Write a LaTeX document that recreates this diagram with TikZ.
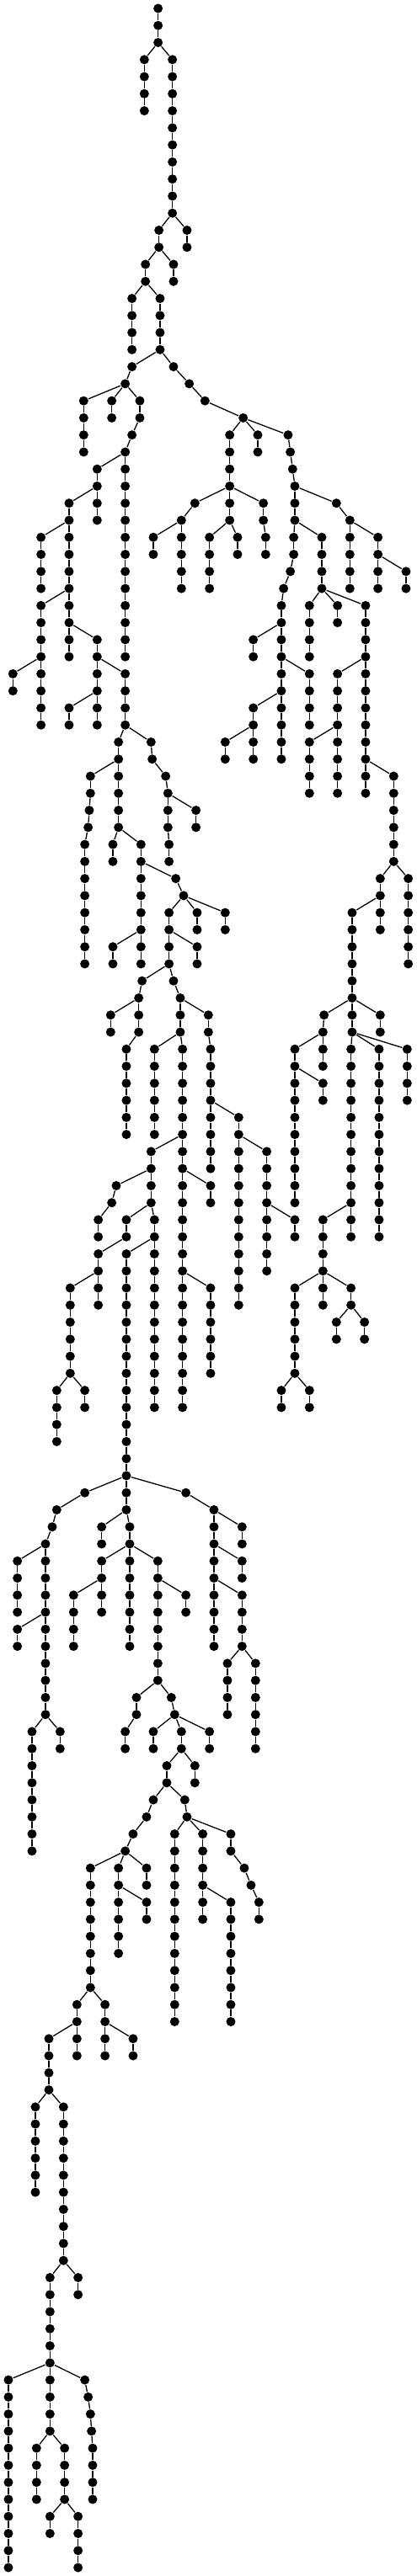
\documentclass[tikz,border=0pt]{standalone}
\begin{document}
\begin{tikzpicture}[x=0.33333pt, y=-20.267pt, line width=1.3pt, vert/.style={circle, fill=black, inner sep=0pt, minimum size=11pt}]
        \useasboundingbox (0,-0.4934) rectangle (1485,150.4934);
        \node[vert] (n563-0) at (563,0) {};
        \foreach \up/\col/\fst/\lst in {
            563-0/563/1/2, 563-2/514/3/6, 563-2/614/3/12, 614-12/666/13/14, 614-12/566/13/14,
            566-14/618/15/16, 566-14/518/15/16, 518-16/470/17/20, 518-16/570/17/20,
            570-20/470/21/21, 470-21/446/22/22, 446-22/298/23/26, 446-22/398/23/24, 446-22/498/23/24,
            498-24/470/25/25, 470-25/446/26/26, 446-26/446/27/38, 446-26/346/27/30,
            346-28/246/29/38, 246-30/146/31/34, 246-34/146/35/42, 146-38/46/39/40,
            246-36/346/37/42, 346-38/446/39/42, 346-40/246/41/42,
            446-42/422/43/48, 422-44/322/45/46, 322-46/318/47/47, 318-47/314/48/48, 314-48/302/49/56,
            422-48/402/49/50, 422-48/502/49/54, 502-50/626/51/51, 626-51/654/52/52,
            502-54/402/55/56, 502-54/502/55/56,
            446-42/538/43/43, 538-43/542/44/44, 542-44/590/45/45, 590-45/598/46/48, 598-46/698/47/48,
            598-48/602/49/50,
            654-52/602/53/56, 654-52/702/53/54, 654-52/802/53/54, 602-54/702/55/56,
            602-56/506/57/57, 506-57/494/58/60, 494-58/394/59/60, 494-60/450/61/66,
            602-56/618/57/57, 618-57/642/58/60, 642-58/742/59/60, 642-60/550/61/66, 642-60/650/61/74,
            742-60/750/61/68, 750-64/850/65/76, 850-66/950/67/74, 950-70/1050/71/72,
            650-66/538/67/70, 538-68/414/69/69, 414-69/398/70/70, 398-70/350/71/72,
            538-70/450/71/72, 450-72/350/73/74, 350-74/250/75/80, 350-74/350/75/76,
            538-70/550/71/72, 550-72/450/73/86, 550-72/550/73/82,
            650-68/750/69/70, 650-74/650/75/82, 650-74/750/75/80,
            250-80/202/81/84, 250-80/302/81/82,
            450-86/302/87/87, 302-87/202/88/88, 202-88/186/89/89, 186-89/162/90/100,
            162-90/62/91/94, 162-94/62/95/96, 162-100/114/101/108, 162-100/214/101/102,
            450-86/450/87/88, 450-88/362/89/90, 450-88/462/89/96, 462-90/362/91/94, 362-92/262/93/96,
            462-90/562/91/98, 562-92/662/93/94, 562-98/486/99/100, 486-100/446/101/102,
            562-98/610/99/99, 610-99/622/100/100, 622-100/546/101/102, 622-100/646/101/102, 622-100/746/101/102,
            646-102/594/103/104, 646-102/694/103/104, 594-104/546/105/105, 546-105/522/106/106,
            522-106/474/107/107, 474-107/446/108/108, 446-108/322/109/116, 446-108/422/109/114,
            446-108/522/109/110, 422-110/522/111/112,
            322-116/274/117/120, 274-118/174/119/122, 174-122/126/123/128, 174-122/226/123/132,
            226-132/178/133/138, 226-132/278/133/134, 178-138/30/139/150, 178-138/178/139/142,
            178-142/130/143/146, 178-142/230/143/146, 230-146/178/147/148, 230-146/278/147/150,
            178-138/302/139/139, 302-139/314/140/140, 314-140/322/141/141, 322-141/326/142/142, 326-142/330/143/146,
            322-116/374/117/120, 374-118/474/119/120,
            594-104/658/105/105, 658-105/666/106/106, 666-106/622/107/118, 666-106/722/107/112,
            722-110/822/111/118, 666-106/822/107/108, 822-108/870/109/109, 870-109/894/110/110, 894-110/922/111/112,
            450-86/662/87/87, 662-87/762/88/96, 762-88/862/89/90, 762-90/862/91/92, 762-92/862/93/96,
            862-96/810/97/100, 862-96/910/97/102,
            570-20/618/21/21, 618-21/674/22/22, 674-22/730/23/23, 730-23/866/24/24,
            866-24/818/25/30, 818-28/694/29/29, 694-29/646/30/34, 646-30/546/31/32,
            818-30/746/31/34, 818-30/846/31/32, 818-28/938/29/30, 938-30/946/31/32, 866-24/918/25/26,
            866-24/1026/25/25, 1026-25/1034/26/26, 1034-26/1042/27/27, 1042-27/1050/28/30,
            1050-30/1046/31/32, 1046-32/1034/33/33, 1034-33/1010/34/34, 1010-34/1002/35/44,
            1002-36/902/37/38, 1002-38/1102/39/42, 1002-40/902/41/44, 902-42/802/43/44,
            1050-30/1146/31/34, 1146-34/1102/35/38, 1146-34/1202/35/36, 1146-34/1302/35/46,
            1302-38/1202/39/46, 1202-42/1102/43/46, 1302-44/1402/45/50,
            1402-50/1454/51/56, 1402-50/1354/51/54, 1354-52/1254/53/60,
            1254-58/1354/59/60, 1254-58/1154/59/59, 1154-59/1150/60/62, 1150-60/1050/61/70, 1050-62/1150/63/64,
            1254-60/1250/61/72, 1250-70/1150/71/76, 1150-74/1050/75/80, 1150-74/1250/75/76,
            1050-80/1002/81/82, 1050-80/1102/81/82, 1250-76/1198/77/78, 1250-76/1298/77/78,
            1254-60/1350/61/72, 1254-60/1450/61/64,
            1050-28/1198/29/29, 1198-29/1246/30/34, 1246-30/1346/31/34, 1346-32/1446/33/34
        } {
            \foreach \lev in {\fst,...,\lst} {
                \node[vert] (n\col-\lev) at (\col,\lev) {};
                \pgfmathtruncatemacro{\prev}{\lev-1}
                \ifnum\lev=\fst
                    \draw (n\up) -- (n\col-\lev);
                \else
                    \draw (n\col-\prev) -- (n\col-\lev);
                \fi
            }
        }
    \end{tikzpicture}
\end{document}
